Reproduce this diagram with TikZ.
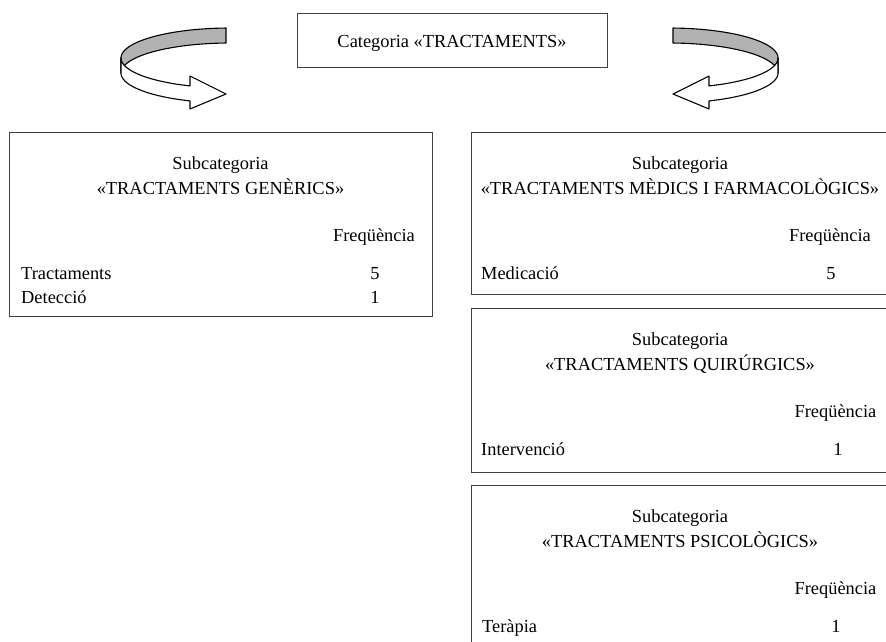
\documentclass[tikz,border=0pt]{standalone}
\usepackage{fontspec}
\setmainfont{Liberation Serif}
\begin{document}
\begin{tikzpicture}[x=1pt,y=-1pt,
  box/.style={draw=black!75, line width=0.9pt, inner sep=0pt},
  txt/.style={inner sep=0pt, font=\fontsize{18.4}{23}\selectfont},
  twist/.pic={
    % back (inner) face, grey
    \draw[line width=1.1pt, fill=black!30, line join=round]
      plot[domain=92.1:180, samples=50, smooth] ({230+109*cos(\x)},{58-30*sin(\x)})
      -- plot[domain=180:92.1, samples=50, smooth] ({230+109*cos(\x)},{73-30*sin(\x)})
      -- cycle;
    % front face with arrow head, white
    \draw[line width=1.1pt, fill=white, line join=round]
      plot[domain=180:248.47, samples=50, smooth] ({230+109*cos(\x)},{58-30*sin(\x)})
      -- (190,76) -- (226,94) -- (190,109)
      -- plot[domain=248.47:180, samples=50, smooth] ({230+109*cos(\x)},{73-30*sin(\x)})
      -- cycle;
  }]
\useasboundingbox (0,0) rectangle (886,641);
\clip (0,0) rectangle (886,641);

% top category box
\node[box, minimum width=310pt, minimum height=54pt] (top) at (452,40) {};
\node[txt, anchor=base] (toptxt) at (452,47.7) {Categoria «TRACTAMENTS»};

% twisted arrows
\pic (la) at (0,0) {twist};
\pic[xscale=-1] (ra) at (899,0) {twist};

% left box
\node[box, anchor=north west, minimum width=423pt, minimum height=184pt] (gen) at (9,132) {};
\node[txt, anchor=base] (gen1) at (220.5,169) {Subcategoria};
\node[txt, anchor=base] (gen2) at (220.5,194) {«TRACTAMENTS GENÈRICS»};
\node[txt, anchor=base] (genf) at (374,241) {Freqüència};
\node[txt, anchor=base west] (gena) at (21,279) {Tractaments};
\node[txt, anchor=base] (genan) at (375,279) {5};
\node[txt, anchor=base west] (genb) at (21,303) {Detecció};
\node[txt, anchor=base] (genbn) at (375,303) {1};

% right box 1
\node[box, anchor=north west, minimum width=420pt, minimum height=162pt] (med) at (471,132) {};
\node[txt, anchor=base] (med1) at (680,169) {Subcategoria};
\node[txt, anchor=base] (med2) at (680,194) {«TRACTAMENTS MÈDICS I FARMACOLÒGICS»};
\node[txt, anchor=base] (medf) at (830,241) {Freqüència};
\node[txt, anchor=base west] (meda) at (481,279) {Medicació};
\node[txt, anchor=base] (medan) at (831,279) {5};

% right box 2
\node[box, anchor=north west, minimum width=420pt, minimum height=164pt] (qui) at (471,308) {};
\node[txt, anchor=base] (qui1) at (680,345) {Subcategoria};
\node[txt, anchor=base] (qui2) at (680,370) {«TRACTAMENTS QUIRÚRGICS»};
\node[txt, anchor=base] (quif) at (835.5,417) {Freqüència};
\node[txt, anchor=base west] (quia) at (481,455) {Intervenció};
\node[txt, anchor=base] (quian) at (838,455) {1};

% right box 3
\node[box, anchor=north west, minimum width=420pt, minimum height=180pt] (psi) at (471,485) {};
\node[txt, anchor=base] (psi1) at (680,522) {Subcategoria};
\node[txt, anchor=base] (psi2) at (680,547) {«TRACTAMENTS PSICOLÒGICS»};
\node[txt, anchor=base] (psif) at (835.5,594) {Freqüència};
\node[txt, anchor=base west] (psia) at (482,632) {Teràpia};
\node[txt, anchor=base] (psian) at (836,632) {1};
\end{tikzpicture}
\end{document}
